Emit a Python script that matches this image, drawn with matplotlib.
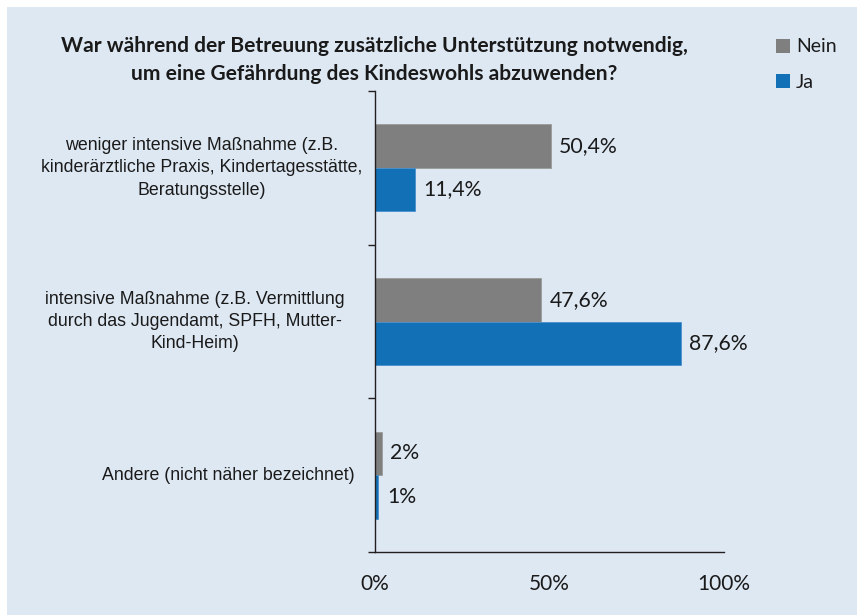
import matplotlib
matplotlib.use("Agg")
import matplotlib.pyplot as plt
from matplotlib.patches import Rectangle, Patch
from matplotlib.transforms import blended_transform_factory
import numpy as np

# ---- data ----
categories = [
    "weniger intensive Maßnahme (z.B.\nkinderärztliche Praxis, Kindertagesstätte,\nBeratungsstelle)",
    "intensive Maßnahme (z.B. Vermittlung\ndurch das Jugendamt, SPFH, Mutter-\nKind-Heim)",
    "Andere (nicht näher bezeichnet)",
]
nein_values = [50.4, 47.6, 2.0]
ja_values = [11.4, 87.6, 1.0]
nein_labels = ["50,4%", "47,6%", "2%"]
ja_labels = ["11,4%", "87,6%", "1%"]
x_ticks = [0, 50, 100]
x_ticklabels = ["0%", "50%", "100%"]
series_names = ["Nein", "Ja"]
title = "War während der Betreuung zusätzliche Unterstützung notwendig,\num eine Gefährdung des Kindeswohls abzuwenden?"

# ---- style ----
BG = "#dee8f3"
GRAY = "#7f7f7f"
BLUE = "#1270b6"
AXC = "#231f20"
W, H = 857, 615
CAL = ["Lato", "DejaVu Sans"]
ARIAL = ["Liberation Sans", "DejaVu Sans"]

fig = plt.figure(figsize=(W / 100, H / 100), dpi=100)
fig.patch.set_facecolor("white")
fig.patches.append(Rectangle((7 / W, 0), 1 - 7 / W, 1 - 7 / H, transform=fig.transFigure,
                             facecolor=BG, edgecolor="none", zorder=-10))

ax = fig.add_axes([375 / W, 1 - 552 / H, (724 - 375) / W, (552 - 91) / H])
ax.set_facecolor("none")

y = np.arange(len(categories))
bh = 0.283
ax.barh(y - bh / 2, nein_values, height=bh, color=GRAY, edgecolor="#9a9a9a", linewidth=0.6)
ax.barh(y + bh / 2, ja_values, height=bh, color=BLUE, edgecolor="#4a90cc", linewidth=0.6)

ax.set_xlim(0, 100)
ax.set_ylim(len(categories) - 0.5, -0.5)

for sp in ["top", "right"]:
    ax.spines[sp].set_visible(False)
for sp in ["left", "bottom"]:
    ax.spines[sp].set_color(AXC)
    ax.spines[sp].set_linewidth(1.0)

ax.set_xticks(x_ticks)
ax.set_xticklabels(x_ticklabels, fontfamily=CAL, fontsize=15, color="#1a1a1a")
ax.tick_params(axis="x", length=0, pad=16)
ax.set_yticks(np.arange(len(categories) + 1) - 0.5)
ax.set_yticklabels([])
ax.tick_params(axis="y", direction="out", length=5, width=1.0, color=AXC)

# value labels
for yi, v, lab in zip(y, nein_values, nein_labels):
    ax.annotate(lab, (v, yi - bh / 2), xytext=(6, 0), textcoords="offset points",
                va="center", ha="left", fontfamily=CAL, fontsize=15.3, color="#1a1a1a")
for yi, v, lab in zip(y, ja_values, ja_labels):
    ax.annotate(lab, (v, yi + bh / 2), xytext=(6, 0), textcoords="offset points",
                va="center", ha="left", fontfamily=CAL, fontsize=15.3, color="#1a1a1a")

# category labels
label_right_px = [362, 345, 355]
tr = blended_transform_factory(fig.transFigure, ax.transData)
for yi, cat, rpx in zip(y, categories, label_right_px):
    ax.text(rpx / W, yi, cat, transform=tr, ha="right", va="center", multialignment="center",
            fontfamily=ARIAL, fontsize=12.8, color="#1a1a1a", linespacing=1.4)

# title
t = fig.text(374 / W, 1 - 60 / H, title, ha="center", va="center", fontfamily=CAL,
             fontweight="bold", fontsize=15.1, color="#1a1a1a", linespacing=1.45)

# legend
handles = [Patch(facecolor=GRAY, edgecolor="none"), Patch(facecolor=BLUE, edgecolor="none")]
leg = fig.legend(handles, series_names, loc="upper left", bbox_to_anchor=(758 / W, 1 - 21 / H),
                 frameon=False, handlelength=0.75, handleheight=0.75, handletextpad=0.3,
                 labelspacing=0.95, prop={"family": CAL, "size": 14})
for txt in leg.get_texts():
    txt.set_color("#1a1a1a")

fig.savefig("out.png", dpi=100, facecolor=fig.get_facecolor())
